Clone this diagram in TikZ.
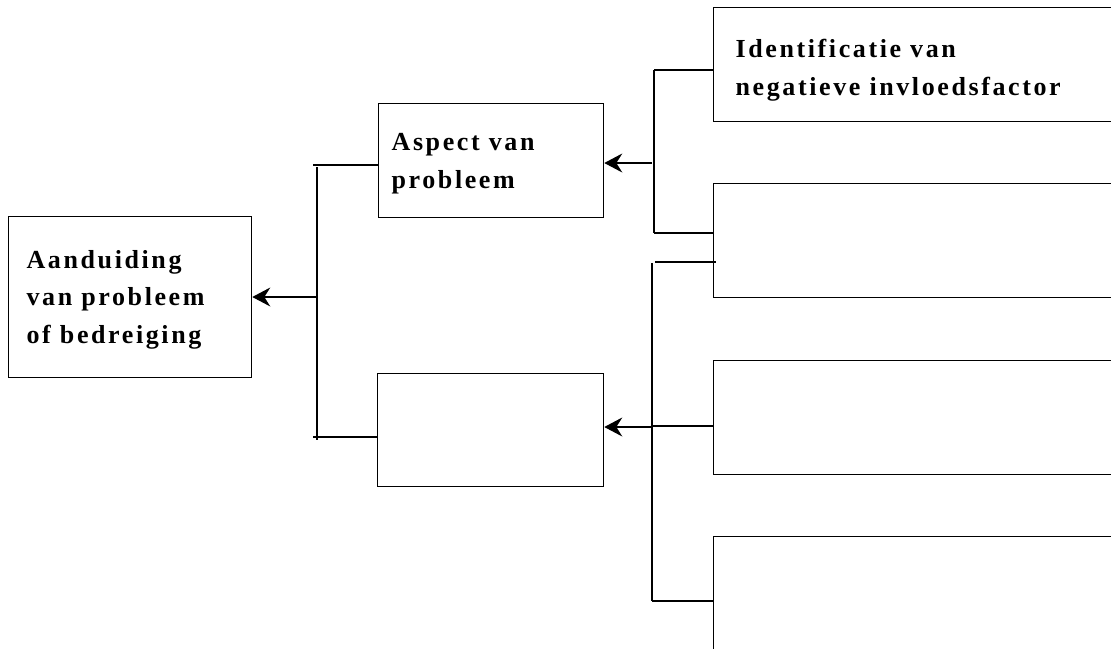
\documentclass[tikz,border=0pt]{standalone}
\usepackage{fontspec}
\newfontfamily\lblfamily{Liberation Serif}[LetterSpace=10]
\usetikzlibrary{arrows.meta}
\begin{document}
\begin{tikzpicture}[x=1pt,y=-1pt,line width=1.3pt,
  box/.style={draw, rectangle, inner sep=0pt, anchor=north west},
  lbl/.style={anchor=base west, inner sep=0pt, align=left,
    font=\lblfamily\bfseries\fontsize{26}{37.5}\selectfont},
  arr/.style={-{Stealth[length=18pt,width=19pt,inset=6pt]}}]
\useasboundingbox (0,0) rectangle (1111,648);
\clip (0,0) rectangle (1111,648);
% boxes
\node[box, minimum width=243pt, minimum height=161pt] (root) at (8,216) {};
\node[box, minimum width=225pt, minimum height=114pt] (asp) at (378,103) {};
\node[box, minimum width=226pt, minimum height=113pt] (mid) at (377,373) {};
\node[box, minimum width=500pt, minimum height=114pt] (r1) at (713,7) {};
\node[box, minimum width=500pt, minimum height=114pt] (r2) at (713,183) {};
\node[box, minimum width=500pt, minimum height=114pt] (r3) at (713,360) {};
\node[box, minimum width=500pt, minimum height=114pt] (r4) at (713,536) {};
% texts (anchored at the baseline of the last line)
\node[lbl] (t0) at (26,343) {Aanduiding\\van probleem\\of bedreiging};
\node[lbl] (t1) at (391,188) {Aspect van\\probleem};
\node[lbl] (t2) at (735,95) {Identificatie van\\negatieve invloedsfactor};
% group 1
\coordinate (g1a) at (317,165);
\coordinate (g1b) at (317,437);
\coordinate (g1m) at (316,297);
\draw (g1a) ++(0,2) -- (317,440);
\draw (313,165) -- (g1a -| asp.west);
\draw (313,437) -- (g1b -| mid.west);
\draw[arr] (g1m) -- (root.east |- g1m);
% group 2
\coordinate (g2a) at (654,70);
\coordinate (g2b) at (654,233);
\coordinate (g2m) at (652,163);
\draw (g2a) -- (g2b);
\draw (g2a) -- (g2a -| r1.west);
\draw (g2b) -- (g2b -| r2.west);
\draw[arr] (g2m) -- (asp.east |- g2m);
% group 3
\coordinate (g3a) at (652,263);
\coordinate (g3t) at (655,262);
\coordinate (g3b) at (652,426);
\coordinate (g3c) at (652,601);
\coordinate (g3m) at (651,427);
\draw (g3a) -- (g3c);
\draw (g3t) -- ([xshift=3pt]g3t -| r2.west);
\draw (g3b) -- (g3b -| r3.west);
\draw (g3c) -- (g3c -| r4.west);
\draw[arr] (g3m) -- (mid.east |- g3m);
\end{tikzpicture}
\end{document}
